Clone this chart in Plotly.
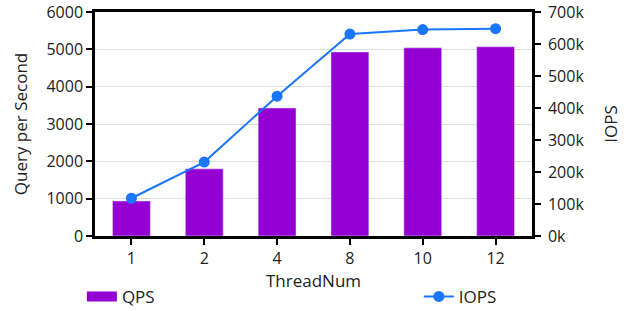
import plotly.graph_objects as go

threads = ["1", "2", "4", "8", "10", "12"]
qps = [940, 1800, 3430, 4930, 5040, 5070]
iops = [118000, 231000, 437000, 631000, 645000, 648000]
y2_tickvals = [0, 100000, 200000, 300000, 400000, 500000, 600000, 700000]
y2_ticktext = ["0k", "100k", "200k", "300k", "400k", "500k", "600k", "700k"]

FONT = "Open Sans"
BAR_COLOR = "#9400D3"
LINE_COLOR = "#1a75ff"

fig = go.Figure()
fig.add_trace(go.Bar(x=threads, y=qps, name="QPS", marker_color=BAR_COLOR, showlegend=False))
# legend swatch for QPS drawn as a wide rectangle (like the reference)
fig.add_trace(go.Scatter(x=[None], y=[None], name="QPS", mode="lines",
                         line=dict(color=BAR_COLOR, width=12), legend="legend", showlegend=True))
fig.add_trace(go.Scatter(x=threads, y=iops, name="IOPS", yaxis="y2", mode="lines+markers",
                         line=dict(color=LINE_COLOR, width=2), marker=dict(size=11, color=LINE_COLOR),
                         legend="legend2", showlegend=True))

fig.update_layout(
    width=628, height=311,
    showlegend=True,
    margin=dict(l=95, r=96, t=12, b=75, autoexpand=False),
    paper_bgcolor="white", plot_bgcolor="white",
    font=dict(family=FONT, size=16, color="#222"),
    bargap=0.48,
    xaxis=dict(type="category", showline=True, linecolor="black", linewidth=2.5, mirror=True,
               ticks="outside", tickcolor="black", ticklen=6, tickwidth=2,
               title=dict(text="ThreadNum", font=dict(size=17), standoff=0)),
    yaxis=dict(range=[0, 6000], dtick=1000, showline=True, linecolor="black", linewidth=2.5,
               ticks="outside", tickcolor="black", ticklen=6, tickwidth=2,
               showgrid=True, gridcolor="#dddddd", gridwidth=1, zeroline=False,
               title=dict(text="Query per Second", font=dict(size=17), standoff=15)),
    yaxis2=dict(overlaying="y", side="right", range=[0, 700000], tickvals=y2_tickvals,
                ticktext=y2_ticktext, showline=True, linecolor="black", linewidth=2.5,
                ticks="outside", tickcolor="black", ticklen=6, tickwidth=2, ticklabelstandoff=4,
                showgrid=False, zeroline=False,
                title=dict(text="IOPS", font=dict(size=17), standoff=22)),
    legend=dict(x=-0.030, y=-0.272, xanchor="left", yanchor="middle", font=dict(size=17),
                bgcolor="rgba(0,0,0,0)"),
    legend2=dict(x=0.741, y=-0.272, xanchor="left", yanchor="middle", font=dict(size=17),
                 bgcolor="rgba(0,0,0,0)"),
)

fig.write_html("out.html", config={"displayModeBar": False},
               post_script="document.body.style.margin='0px';")
